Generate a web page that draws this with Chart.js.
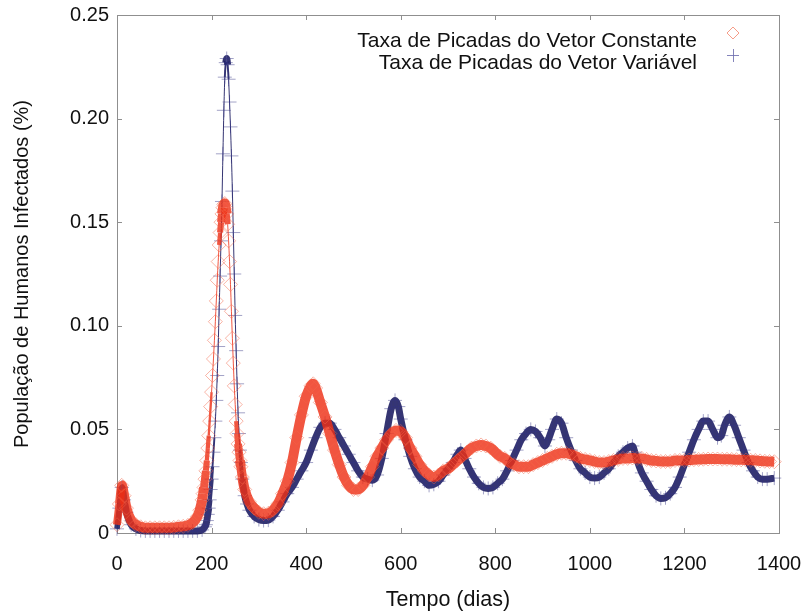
<!DOCTYPE html>
<html>
<head>
<meta charset="utf-8">
<script src="https://cdn.jsdelivr.net/npm/chart.js@4.4.1/dist/chart.umd.min.js"></script>
<style>
html, body { margin: 0; padding: 0; background: #fff; }
#wrap { width: 803px; height: 615px; }
</style>
</head>
<body>
<div id="wrap"><canvas id="myChart" width="803" height="615"></canvas></div>
<script>
// Data (days, % infected)
const constLabel = 'Taxa de Picadas do Vetor Constante'
const varLabel = 'Taxa de Picadas do Vetor Variável'

const constDays = [0,5,10,15,20,30,40,50,60,70,80,90,100,110,120,130,140,150,160,170,175,180,182,184,186,188,190,192,194,196,198,200,202,204,206,208,210,212,214,216,218,220,222,224,226,228,230,232,234,236,238,240,242,244,246,248,250,252,254,256,258,260,262,265,270,280,290,300,310,320,330,340,350,360,370,380,390,400,410,415,420,430,440,450,460,470,480,490,500,510,520,530,540,550,560,570,580,590,600,610,620,630,640,650,660,670,680,690,700,710,720,730,740,750,760,770,780,790,800,810,820,830,840,850,860,870,880,890,900,910,920,930,940,950,960,970,980,990,1000,1010,1020,1030,1040,1050,1060,1070,1080,1090,1100,1110,1120,1130,1140,1150,1160,1170,1180,1190,1200,1210,1220,1230,1240,1250,1260,1270,1280,1290,1300,1310,1320,1330,1340,1350,1360,1370,1380,1390]
const constRate = [0.004,0.014,0.023,0.018,0.012,0.006,0.004,0.003,0.0025,0.0025,0.0025,0.0025,0.0025,0.0025,0.0027,0.003,0.0032,0.0037,0.005,0.008,0.011,0.016,0.019,0.022,0.026,0.030,0.035,0.041,0.047,0.054,0.061,0.068,0.076,0.084,0.093,0.102,0.112,0.122,0.131,0.139,0.145,0.150,0.154,0.157,0.1585,0.159,0.157,0.154,0.149,0.141,0.131,0.120,0.107,0.094,0.082,0.071,0.062,0.054,0.048,0.043,0.039,0.035,0.032,0.027,0.021,0.015,0.012,0.010,0.0093,0.0095,0.011,0.014,0.019,0.025,0.034,0.046,0.057,0.066,0.071,0.072,0.070,0.063,0.056,0.048,0.040,0.033,0.027,0.023,0.021,0.021,0.023,0.027,0.032,0.037,0.041,0.045,0.048,0.0495,0.049,0.046,0.041,0.037,0.033,0.030,0.028,0.027,0.028,0.030,0.031,0.033,0.035,0.037,0.039,0.041,0.042,0.0425,0.042,0.041,0.039,0.037,0.036,0.034,0.033,0.032,0.032,0.032,0.033,0.034,0.035,0.036,0.037,0.038,0.0385,0.0385,0.038,0.037,0.036,0.0355,0.035,0.0345,0.034,0.034,0.0345,0.035,0.0355,0.036,0.036,0.0362,0.036,0.036,0.0355,0.035,0.0348,0.0345,0.0345,0.0345,0.035,0.035,0.035,0.0352,0.0354,0.0355,0.0356,0.0357,0.0357,0.0357,0.0356,0.0356,0.0355,0.0354,0.0353,0.0352,0.0351,0.035,0.0348,0.0346,0.0345,0.0344]

const varDays = [0,5,10,15,20,30,40,50,60,70,80,90,100,110,120,130,140,150,160,170,180,186,188,190,192,194,196,198,200,202,204,206,208,210,212,214,216,218,220,222,224,226,228,230,232,234,236,238,240,242,244,246,248,250,252,254,256,258,260,262,265,270,275,280,290,300,310,320,330,340,350,360,370,380,390,400,410,420,430,440,450,460,470,480,490,500,510,520,530,540,550,560,570,580,588,595,600,610,620,630,640,650,660,670,680,690,700,710,720,727,735,745,755,765,775,785,795,805,815,825,835,845,855,865,875,885,895,905,912,920,930,940,950,960,970,980,990,1000,1010,1020,1030,1040,1050,1060,1070,1080,1090,1095,1100,1110,1120,1130,1140,1150,1160,1170,1180,1190,1200,1210,1220,1230,1240,1250,1260,1270,1278,1285,1295,1305,1315,1325,1335,1345,1355,1365,1375,1390]
const varRate = [0.002,0.012,0.022,0.016,0.010,0.004,0.002,0.0012,0.001,0.001,0.001,0.001,0.001,0.001,0.001,0.001,0.001,0.001,0.001,0.001,0.0015,0.003,0.004,0.006,0.009,0.012,0.016,0.021,0.026,0.032,0.039,0.046,0.054,0.064,0.076,0.090,0.108,0.124,0.141,0.160,0.183,0.204,0.220,0.227,0.229,0.226,0.219,0.208,0.196,0.182,0.165,0.145,0.125,0.105,0.088,0.072,0.058,0.048,0.040,0.034,0.026,0.018,0.014,0.011,0.008,0.0065,0.006,0.0062,0.008,0.011,0.015,0.019,0.022,0.026,0.030,0.034,0.040,0.046,0.051,0.053,0.053,0.050,0.046,0.042,0.038,0.034,0.030,0.027,0.026,0.0255,0.028,0.036,0.048,0.060,0.064,0.061,0.055,0.045,0.037,0.031,0.027,0.025,0.023,0.0235,0.025,0.028,0.031,0.034,0.038,0.040,0.036,0.031,0.027,0.024,0.022,0.0215,0.022,0.024,0.026,0.030,0.035,0.040,0.045,0.048,0.050,0.049,0.046,0.042,0.045,0.050,0.055,0.053,0.046,0.040,0.035,0.031,0.029,0.027,0.0265,0.027,0.029,0.031,0.034,0.037,0.039,0.041,0.042,0.039,0.035,0.029,0.025,0.021,0.018,0.0167,0.017,0.019,0.022,0.027,0.033,0.039,0.045,0.050,0.054,0.054,0.050,0.046,0.047,0.052,0.056,0.052,0.046,0.040,0.034,0.030,0.027,0.026,0.026,0.0265]

const xTicks = [0,200,400,600,800,1000,1200,1400]
const yTickLabels = ['0','0.05','0.10','0.15','0.20','0.25']

const FONT = '"Liberation Sans", Arial, Helvetica, sans-serif'
const AXIS_GRAY = '#8f8f8f'

// line gets thin where markers would separate (steep parts of the peak)
function bandWidth(days, ctx, wide) {
    const d = days[ctx.p1DataIndex] - days[ctx.p0DataIndex]
    const perDay = Math.abs(ctx.p1.y - ctx.p0.y) / d
    if (perDay < 3) return wide
    if (perDay > 8) return 1
    return wide - (wide - 1) * (perDay - 3) / 5
}

function pts(days, vals) {
    return days.map((d, i) => ({ x: d, y: vals[i] }))
}

// frame with inward ticks + legend in the top right corner
const framePlugin = {
    id: 'frame',
    beforeDatasetsDraw(chart) {
        const { ctx, chartArea: a, scales } = chart
        ctx.save()
        ctx.strokeStyle = AXIS_GRAY
        ctx.lineWidth = 1
        ctx.strokeRect(a.left + 0.5, a.top + 0.5, a.right - a.left, a.bottom - a.top)
        ctx.beginPath()
        xTicks.forEach(v => {
            const x = Math.round(scales.x.getPixelForValue(v)) + 0.5
            ctx.moveTo(x, a.bottom); ctx.lineTo(x, a.bottom - 5)
            ctx.moveTo(x, a.top); ctx.lineTo(x, a.top + 5)
        })
        yTickLabels.forEach((l, i) => {
            const y = Math.round(scales.y.getPixelForValue(i * 0.05)) + 0.5
            ctx.moveTo(a.left, y); ctx.lineTo(a.left + 5, y)
            ctx.moveTo(a.right, y); ctx.lineTo(a.right - 5, y)
        })
        ctx.stroke()
        ctx.restore()
    },
    afterDraw(chart) {
        const ctx = chart.ctx
        ctx.save()
        ctx.font = '21px ' + FONT
        ctx.fillStyle = '#111'
        ctx.textAlign = 'right'
        ctx.textBaseline = 'alphabetic'
        ctx.fillText(constLabel, 697, 46.5)
        ctx.fillText(varLabel, 697, 69)
        // diamond
        ctx.strokeStyle = 'rgba(245,140,115,0.85)'
        ctx.lineWidth = 1
        ctx.beginPath()
        ctx.moveTo(733, 27); ctx.lineTo(739, 33); ctx.lineTo(733, 39); ctx.lineTo(727, 33); ctx.closePath()
        ctx.stroke()
        // plus
        ctx.strokeStyle = 'rgba(110,110,175,0.85)'
        ctx.beginPath()
        ctx.moveTo(727, 55.5); ctx.lineTo(739, 55.5)
        ctx.moveTo(733.5, 49); ctx.lineTo(733.5, 62)
        ctx.stroke()
        ctx.restore()
    }
}

const ctx = document.getElementById('myChart').getContext('2d')
const myChart = new Chart(ctx, {
    type: 'line',
    data: {
        datasets: [{
            // Constant biting rate
            label: constLabel,
            data: pts(constDays, constRate),
            borderColor: 'rgba(238,48,22,0.82)',
            cubicInterpolationMode: 'monotone',
            segment: { borderWidth: c => bandWidth(constDays, c, 10) },
            pointStyle: 'rectRot',
            pointRadius: 7,
            pointBorderWidth: 0.8,
            pointBorderColor: 'rgba(242,100,70,0.6)',
            pointBackgroundColor: 'rgba(0,0,0,0)',
            clip: false,
        },
        {
            // Variable biting rate
            label: varLabel,
            data: pts(varDays, varRate),
            borderColor: 'rgba(25,25,95,0.88)',
            cubicInterpolationMode: 'monotone',
            segment: { borderWidth: c => bandWidth(varDays, c, 7) },
            pointStyle: 'cross',
            pointRadius: 7,
            pointBorderWidth: 0.9,
            pointBorderColor: 'rgba(50,50,130,0.5)',
            clip: false,
        }]
    },
    options: {
        responsive: false,
        animation: false,
        layout: { padding: { top: 15, right: 24, left: 0, bottom: 0 } },
        plugins: { legend: { display: false }, tooltip: { enabled: false } },
        scales: {
            x: {
                type: 'linear',
                min: 0, max: 1400,
                afterFit: s => { s.height = 82; s.paddingLeft = 0; s.paddingRight = 0 },
                grid: { display: false, drawTicks: false },
                border: { display: false },
                ticks: {
                    stepSize: 200, padding: 19, color: '#111',
                    font: { family: FONT, size: 20 },
                    callback: v => xTicks.includes(v) ? String(v) : ''
                },
                title: { display: true, text: 'Tempo (dias)', color: '#111', padding: { top: 0, bottom: 2 }, font: { family: FONT, size: 21.5 } }
            },
            y: {
                min: 0, max: 0.25,
                afterFit: s => { s.width = 117; s.paddingTop = 0; s.paddingBottom = 0 },
                grid: { display: false, drawTicks: false },
                border: { display: false },
                ticks: {
                    stepSize: 0.05, padding: 8, color: '#111',
                    font: { family: FONT, size: 20 },
                    callback: (v, i) => yTickLabels[i]
                },
                title: { display: true, text: 'População de Humanos Infectados (%)', color: '#111', padding: { top: 10, bottom: 0 }, font: { family: FONT, size: 20 } }
            }
        }
    },
    plugins: [framePlugin]
});
</script>
</body>
</html>
